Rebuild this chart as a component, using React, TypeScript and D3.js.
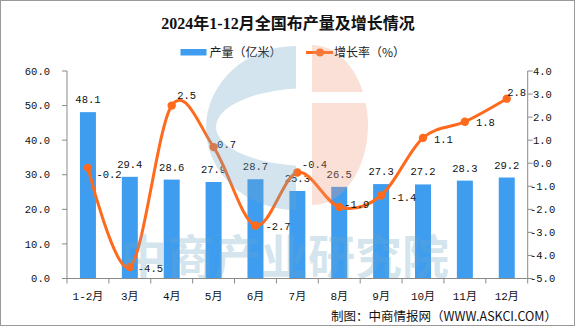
import React from "react";
import * as d3 from "d3";

const months = ["1-2月", "3月", "4月", "5月", "6月", "7月", "8月", "9月", "10月", "11月", "12月"];
const output = [48.1, 29.4, 28.6, 27.9, 28.7, 25.3, 26.5, 27.3, 27.2, 28.3, 29.2];
const growth = [-0.2, -4.5, 2.5, 0.7, -2.7, -0.4, -1.9, -1.4, 1.1, 1.8, 2.8];
const leftTicks = [0, 10, 20, 30, 40, 50, 60];
const rightTicks = [-5, -4, -3, -2, -1, 0, 1, 2, 3, 4];

// label placement relative to each growth point (layout only)
const growthLabelOffsets: [number, number][] = [
  [8.5, 6], [8, 1.5], [5.5, -10.5], [3.5, -2.5], [10, 1], [4.5, -8.5],
  [5, -2.5], [10, 1.5], [11, 1.5], [11, 1], [0.5, -6.5],
];

const W = 575;
const H = 326;
const BAR = "#3F9DF0";
const LINE = "#FF6A1C";
const MONO = "'Liberation Mono', 'DejaVu Sans Mono', 'Noto Sans CJK SC', monospace";
const CJK = "'Noto Sans CJK SC', 'Noto Sans', sans-serif";

export default function App() {
  const x = d3.scaleBand<string>().domain(months).range([67, 527.7]);
  const yL = d3.scaleLinear().domain([0, 60]).range([278.5, 71]);
  const yR = d3.scaleLinear().domain([-5, 4]).range([278.5, 71]);
  const cx = (m: string) => (x(m) ?? 0) + x.bandwidth() / 2;
  const barW = 16;

  const pts: [number, number][] = months.map((m, i) => [cx(m), yR(growth[i])]);
  const linePath = d3.line().curve(d3.curveCardinal.tension(0))(pts) ?? "";

  const fmt = (v: number) => v.toFixed(1);

  // watermark shapes
  const blueC = `M296,${128 - 82} A90,82 0 0 0 296,${128 + 82} Z`;
  const blueHole = `M${310 - 94},127 A94,39 0 1 0 ${310 + 94},127 A94,39 0 1 0 ${310 - 94},127 Z`;
  const orangeD = `M312,${125 - 80} A56,80 0 0 1 312,${125 + 80} Z`;

  const axisColor = "#8a8a8a";

  return (
    <svg
      width={W}
      height={H}
      viewBox={`0 0 ${W} ${H}`}
      style={{ position: "fixed", left: 0, top: 0, background: "#fff" }}
    >
      <defs>
        <clipPath id="leftHalf">
          <rect x={0} y={0} width={296} height={H} />
        </clipPath>
        <clipPath id="orangeGap">
          <rect x={0} y={0} width={W} height={92} />
          <rect x={0} y={103} width={W} height={H} />
        </clipPath>
      </defs>
      <rect x={0} y={0} width={W} height={H} fill="#fff" />

      {/* title */}
      <text
        x={288}
        y={29}
        textAnchor="middle"
        fontSize={16}
        fontWeight="bold"
        fontFamily={`'Liberation Serif', ${CJK}`}
        fill="#111"
      >
        2024年1-12月全国布产量及增长情况
      </text>

      {/* legend */}
      <rect x={180.5} y={49} width={26} height={6.5} fill={BAR} />
      <text x={209.5} y={56.5} fontSize={12} fontFamily={CJK} fill="#222">
        产量（亿米）
      </text>
      <line x1={306} x2={333} y1={52.5} y2={52.5} stroke={LINE} strokeWidth={3} />
      <circle cx={320} cy={52.5} r={4} fill={LINE} />
      <text x={334} y={56.5} fontSize={12} fontFamily={CJK} fill="#222">
        增长率（%）
      </text>

      {/* bars */}
      {months.map((m, i) => (
        <rect
          key={"b" + m}
          x={cx(m) - barW / 2}
          y={yL(output[i])}
          width={barW}
          height={yL(0) - yL(output[i])}
          fill={BAR}
        />
      ))}
      {months.map((m, i) => (
        <text
          key={"bl" + m}
          x={cx(m)}
          y={yL(output[i]) - 9}
          textAnchor="middle"
          fontSize={10.5}
          fontFamily={MONO}
          fill="#111"
        >
          {fmt(output[i])}
        </text>
      ))}

      {/* line */}
      <path d={linePath} fill="none" stroke={LINE} strokeWidth={3} />
      {pts.map((p, i) => (
        <circle key={"c" + i} cx={p[0]} cy={p[1]} r={4.2} fill={LINE} />
      ))}
      {pts.map((p, i) => (
        <text
          key={"gl" + i}
          x={p[0] + growthLabelOffsets[i][0]}
          y={p[1] + growthLabelOffsets[i][1]}
          dy="0.35em"
          fontSize={10.5}
          fontFamily={MONO}
          fill="#111"
        >
          {fmt(growth[i])}
        </text>
      ))}

      {/* watermark overlay */}
      <g clipPath="url(#leftHalf)">
        <path d={blueC + " " + blueHole} fill="rgb(108,165,198)" fillOpacity={0.3} fillRule="evenodd" />
      </g>
      <g clipPath="url(#orangeGap)">
        <path d={orangeD} fill="rgb(238,152,118)" fillOpacity={0.3} />
      </g>
      <text
        x={120}
        y={274}
        fontSize={47}
        fontWeight="bold"
        fontFamily={CJK}
        fill="rgb(108,165,198)"
        fillOpacity={0.3}
      >
        中商产业研究院
      </text>

      {/* axes */}
      <line x1={67} x2={67} y1={71} y2={278.5} stroke={axisColor} />
      <line x1={527.7} x2={527.7} y1={71} y2={278.5} stroke={axisColor} />
      <line x1={67} x2={527.7} y1={278.5} y2={278.5} stroke={axisColor} />
      {leftTicks.map((t) => (
        <g key={"lt" + t}>
          <line x1={62} x2={67} y1={yL(t)} y2={yL(t)} stroke={axisColor} />
          <text
            x={50}
            y={yL(t)}
            dy="0.35em"
            textAnchor="end"
            fontSize={10.5}
            fontFamily={MONO}
            fill="#111"
          >
            {fmt(t)}
          </text>
        </g>
      ))}
      {rightTicks.map((t) => (
        <g key={"rt" + t}>
          <line x1={527.7} x2={532.7} y1={yR(t)} y2={yR(t)} stroke={axisColor} />
          <text
            x={t < 0 ? 530 : 533}
            y={yR(t)}
            dy="0.35em"
            fontSize={10.5}
            fontFamily={MONO}
            fill="#111"
          >
            {fmt(t)}
          </text>
        </g>
      ))}
      {[...months.map((m) => x(m) ?? 0), 527.7].map((tx, i) => (
        <line key={"xt" + i} x1={tx} x2={tx} y1={278.5} y2={283.5} stroke={axisColor} />
      ))}
      {months.map((m) => (
        <text
          key={"xl" + m}
          x={cx(m)}
          y={300}
          textAnchor="middle"
          fontSize={11}
          fontFamily={MONO}
          fill="#111"
        >
          {m}
        </text>
      ))}

      {/* source */}
      <text x={557} y={321} textAnchor="end" fontSize={12.5} fontFamily={CJK} fill="#111">
        制图：中商情报网（WWW.ASKCI.COM）
      </text>

      {/* frame */}
      <rect x={0.5} y={0.5} width={W - 1} height={H - 1} fill="none" stroke="#9a9a9a" />
    </svg>
  );
}
